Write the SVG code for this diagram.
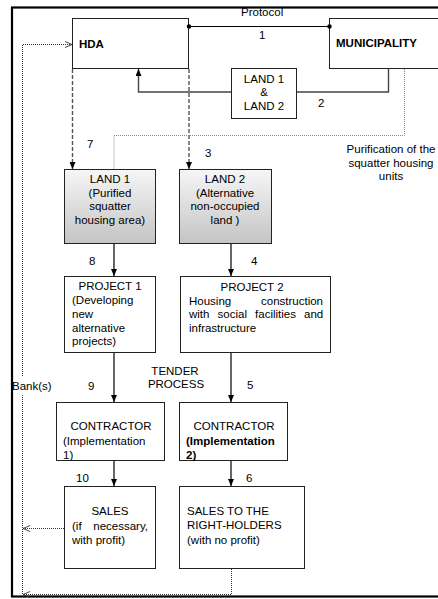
<svg xmlns="http://www.w3.org/2000/svg" width="438" height="599" viewBox="0 0 438 599">
<style>
text{font-family:"Liberation Sans",Arial,sans-serif;font-size:11.5px;fill:#000}
.b{font-weight:bold}
.c{text-anchor:middle}
.e{text-anchor:end}
.box{fill:#fff;stroke:#222;stroke-width:1}
.land{fill:url(#g);stroke:#222;stroke-width:1}
.solid{fill:none;stroke:#000;stroke-width:1.2}
.gray{fill:none;stroke:#444;stroke-width:1.4}
.dash{fill:none;stroke:#555;stroke-width:1.4;stroke-dasharray:4,2}
.dot{fill:none;stroke:#333;stroke-width:1;stroke-dasharray:1,1}
.gdot{fill:none;stroke:#888;stroke-width:1;stroke-dasharray:1,1}
</style>
<defs>
<linearGradient id="g" x1="0" y1="0" x2="0" y2="1">
<stop offset="0" stop-color="#f6f6f6"/>
<stop offset="1" stop-color="#c4c4c4"/>
</linearGradient>
<marker id="a" viewBox="0 0 7 6" refX="7" refY="3" markerWidth="7" markerHeight="6" markerUnits="userSpaceOnUse" orient="auto">
<path d="M0,0 L7,3 L0,6 z" fill="#000"/>
</marker>
<marker id="o" viewBox="0 0 7 7" refX="7" refY="3.5" markerWidth="7" markerHeight="7" markerUnits="userSpaceOnUse" orient="auto">
<path d="M0,0.5 L7,3.5 L0,6.5" fill="none" stroke="#333" stroke-width="0.9"/>
</marker>
</defs>
<rect x="0" y="0" width="438" height="599" fill="#fff"/>
<rect id="frame" x="12" y="7.5" width="440" height="589" fill="none" stroke="#000" stroke-width="2.2"/>

<g id="hda"><rect class="box" x="72.5" y="18.5" width="116" height="50"/><text class="b" x="79" y="48">HDA</text></g>
<g id="municipality"><rect class="box" x="329.5" y="18.5" width="120" height="50"/><text class="b" x="336" y="47">MUNICIPALITY</text></g>
<g id="land12"><rect class="box" x="231.5" y="68.5" width="65" height="50"/><text class="c" x="264" y="83">LAND 1</text><text class="c" x="264" y="96">&amp;</text><text class="c" x="264" y="110">LAND 2</text></g>
<g id="land1"><rect class="land" x="64.5" y="169.5" width="91" height="74"/><text class="c" x="110" y="183">LAND 1</text><text class="c" x="110" y="197">(Purified</text><text class="c" x="110" y="210">squatter</text><text class="c" x="110" y="224">housing area)</text></g>
<g id="land2"><rect class="land" x="179.5" y="169.5" width="92" height="74"/><text class="c" x="225" y="183">LAND 2</text><text class="c" x="225" y="197">(Alternative</text><text class="c" x="225" y="210">non-occupied</text><text class="c" x="225" y="224">land )</text></g>
<g id="project1"><rect class="box" x="64.5" y="276.5" width="91" height="76"/><text class="c" x="110" y="290">PROJECT 1</text><text x="72" y="304">(Developing</text><text x="72" y="318">new</text><text x="72" y="332">alternative</text><text x="72" y="345">projects)</text></g>
<g id="project2"><rect class="box" x="180.5" y="276.5" width="150" height="76"/><text class="c" x="252" y="291">PROJECT 2</text><text x="189" y="305">Housing</text><text class="e" x="323" y="305">construction</text><text x="189" y="318" word-spacing="4.9">with social facilities and</text><text x="189" y="332">infrastructure</text></g>
<g id="contractor1"><rect class="box" x="56.5" y="402.5" width="108" height="58"/><text class="c" x="111" y="430">CONTRACTOR</text><text x="63" y="445">(Implementation</text><text x="63" y="459">1)</text></g>
<g id="contractor2"><rect class="box" x="179.5" y="402.5" width="108" height="58"/><text class="c" x="234" y="430">CONTRACTOR</text><text class="b" x="186" y="445" font-size="11">(Implementation</text><text class="b" x="186" y="459" font-size="11">2)</text></g>
<g id="sales1"><rect class="box" x="64.5" y="486.5" width="91" height="82"/><text class="c" x="110" y="515">SALES</text><text x="72" y="530">(if</text><text class="e" x="148" y="530">necessary,</text><text x="72" y="544">with profit)</text></g>
<g id="sales2"><rect class="box" x="179.5" y="486.5" width="125" height="82"/><text x="187" y="515">SALES TO THE</text><text x="187" y="529">RIGHT-HOLDERS</text><text x="187" y="544">(with no profit)</text></g>

<g id="connectors">
<path class="solid" d="M189,26.5 H329"/>
<circle cx="189" cy="26.5" r="2.2" fill="#000"/><circle cx="329.5" cy="26.5" r="2.2" fill="#000"/>
<path class="gray" d="M388.5,68.5 V92 H297"/>
<path class="gray" d="M231,92 H138.5 V69" marker-end="url(#a)"/>
<path class="dash" d="M72.5,69 V169" marker-end="url(#a)"/>
<path class="dash" d="M189,69 V169" marker-end="url(#a)"/>
<path class="gdot" d="M404.5,69 V135.5 H114 V169"/>
<path class="solid" d="M114,244 V276" marker-end="url(#a)"/>
<path class="solid" d="M231,244 V276" marker-end="url(#a)"/>
<path class="solid" d="M114,353 V402" marker-end="url(#a)"/>
<path class="solid" d="M231,353 V402" marker-end="url(#a)"/>
<path class="solid" d="M114,461 V486" marker-end="url(#a)"/>
<path class="solid" d="M231,461 V486" marker-end="url(#a)"/>
<path class="dot" d="M231.5,569 V594.5 H23" marker-end="url(#o)"/>
<path class="dot" d="M64,528.5 H23" marker-end="url(#o)"/>
<path class="dot" d="M22.5,594 V44.5 H72" marker-end="url(#o)"/>
</g>

<g id="labels">
<text x="241" y="16">Protocol</text>
<text x="259" y="39">1</text>
<text x="318" y="107">2</text>
<text x="87" y="148">7</text>
<text x="205" y="157">3</text>
<text x="89" y="265">8</text>
<text x="251" y="265">4</text>
<text x="88" y="390">9</text>
<text x="247" y="389">5</text>
<text x="76" y="482">10</text>
<text x="246" y="482">6</text>
<text class="c" x="391" y="153">Purification of the</text>
<text class="c" x="391" y="167">squatter housing</text>
<text class="c" x="391" y="180">units</text>
<text class="c" x="175" y="375">TENDER</text>
<text class="c" x="176" y="388">PROCESS</text>
<rect x="14" y="377" width="36" height="17" fill="#fff"/>
<text x="12" y="390">Bank(s)</text>
</g>
</svg>
